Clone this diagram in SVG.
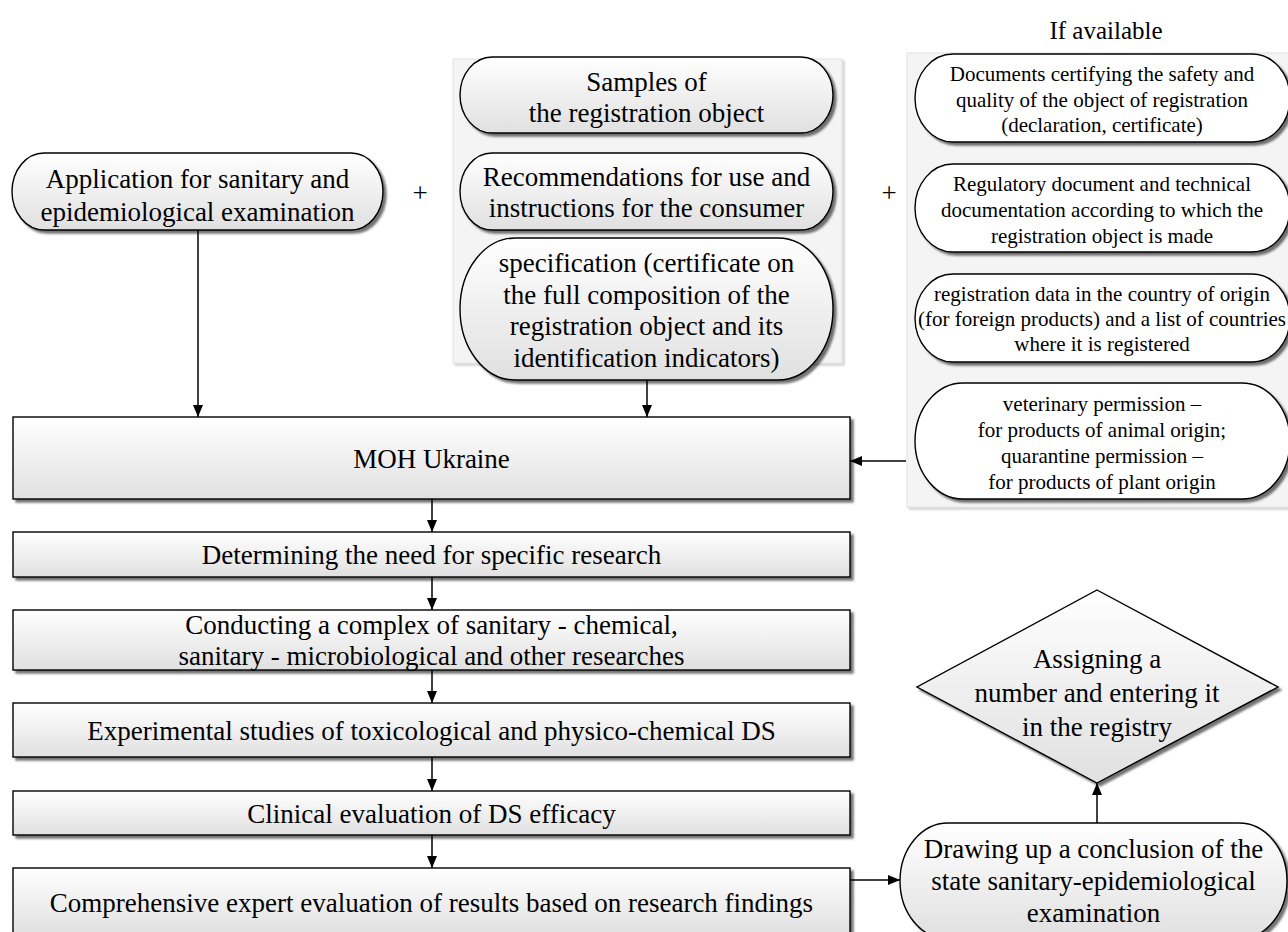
<svg xmlns="http://www.w3.org/2000/svg" width="1288" height="932" viewBox="0 0 1288 932" font-family="'Liberation Serif', 'Times New Roman', serif">
<defs>
<linearGradient id="g" x1="0" y1="0" x2="0" y2="1">
<stop offset="0" stop-color="#ffffff"/>
<stop offset="1" stop-color="#e0e0e0"/>
</linearGradient>
<filter id="sh" x="-5%" y="-10%" width="115%" height="130%">
<feDropShadow dx="3" dy="3" stdDeviation="1.2" flood-color="#000" flood-opacity="0.55"/>
</filter>
<filter id="psh" x="-5%" y="-5%" width="115%" height="115%">
<feDropShadow dx="2" dy="2" stdDeviation="1" flood-color="#000" flood-opacity="0.2"/>
</filter>
<marker id="ah" markerUnits="userSpaceOnUse" markerWidth="12" markerHeight="10" refX="12" refY="5" orient="auto">
<path d="M0,0 L12,5 L0,10 z" fill="#000"/>
</marker>
</defs>
<style>
.box{fill:url(#g);stroke:#000;stroke-width:1.4;filter:url(#sh)}
.wbox{fill:#fff;stroke:#000;stroke-width:1.4;filter:url(#sh)}
.panel{fill:#f4f4f4;stroke:#e2e2e2;stroke-width:1;filter:url(#psh)}
.t{font-family:"Liberation Serif","Times New Roman",serif;font-size:27px;fill:#000;text-anchor:middle}
.s{font-family:"Liberation Serif","Times New Roman",serif;font-size:21px;fill:#000;text-anchor:middle}
.c{fill:none;stroke:#000;stroke-width:1.5;marker-end:url(#ah)}
</style>

<rect id="panel-middle" class="panel" x="453" y="59" width="389" height="304"/>
<rect id="panel-right" class="panel" x="907" y="53" width="390" height="454"/>

<g id="plus-1"><text class="t" x="420" y="202">+</text></g>
<g id="plus-2"><text class="t" x="889" y="202">+</text></g>
<g id="if-available"><text class="t" x="1106" y="39" style="font-size:25px">If available</text></g>

<g id="application">
<rect class="box" x="12" y="153" width="371" height="77" rx="32" ry="38.5"/>
<text class="t" x="197.5" y="187.5">Application for sanitary and</text>
<text class="t" x="197.5" y="220.5">epidemiological examination</text>
</g>

<g id="samples">
<rect class="box" x="460" y="57" width="373" height="76" rx="32" ry="38"/>
<text class="t" x="646.5" y="91">Samples of</text>
<text class="t" x="646.5" y="122">the registration object</text>
</g>

<g id="recommendations">
<rect class="box" x="460" y="153" width="373" height="77" rx="32" ry="38.5"/>
<text class="t" x="646.5" y="185.5">Recommendations for use and</text>
<text class="t" x="646.5" y="216.5">instructions for the consumer</text>
</g>

<g id="specification">
<rect class="box" x="460" y="238" width="373" height="142" rx="55" ry="71"/>
<text class="t" x="646.5" y="272">specification (certificate on</text>
<text class="t" x="646.5" y="303.5">the full composition of the</text>
<text class="t" x="646.5" y="335">registration object and its</text>
<text class="t" x="646.5" y="366.5">identification indicators)</text>
</g>

<g id="documents">
<rect class="wbox" x="915" y="54" width="375" height="88" rx="38" ry="44"/>
<text class="s" x="1102" y="80.5">Documents certifying the safety and</text>
<text class="s" x="1102" y="106.5">quality of the object of registration</text>
<text class="s" x="1102" y="131.5">(declaration, certificate)</text>
</g>

<g id="regulatory">
<rect class="wbox" x="915" y="164" width="375" height="88" rx="38" ry="44"/>
<text class="s" x="1102" y="190.5">Regulatory document and technical</text>
<text class="s" x="1102" y="216.5">documentation according to which the</text>
<text class="s" x="1102" y="242.5">registration object is made</text>
</g>

<g id="registration-data">
<rect class="wbox" x="915" y="274" width="375" height="88" rx="38" ry="44"/>
<text class="s" x="1102" y="300.5">registration data in the country of origin</text>
<text class="s" x="1102" y="325.5">(for foreign products) and a list of countries</text>
<text class="s" x="1102" y="350.5">where it is registered</text>
</g>

<g id="veterinary">
<rect class="wbox" x="915" y="383" width="375" height="116" rx="48" ry="58"/>
<text class="s" x="1102" y="410.5">veterinary permission –</text>
<text class="s" x="1102" y="436.5">for products of animal origin;</text>
<text class="s" x="1102" y="462.5">quarantine permission –</text>
<text class="s" x="1102" y="488.5">for products of plant origin</text>
</g>

<g id="moh">
<rect class="box" x="13" y="417" width="837" height="82"/>
<text class="t" x="431.5" y="468">MOH Ukraine</text>
</g>

<g id="determining">
<rect class="box" x="13" y="532" width="837" height="45"/>
<text class="t" x="431.5" y="564">Determining the need for specific research</text>
</g>

<g id="conducting">
<rect class="box" x="13" y="610" width="837" height="60"/>
<text class="t" x="431.5" y="634">Conducting a complex of sanitary - chemical,</text>
<text class="t" x="431.5" y="665">sanitary - microbiological and other researches</text>
</g>

<g id="experimental">
<rect class="box" x="13" y="703" width="837" height="54"/>
<text class="t" x="431.5" y="739.5">Experimental studies of toxicological and physico-chemical DS</text>
</g>

<g id="clinical">
<rect class="box" x="13" y="791" width="837" height="44"/>
<text class="t" x="431.5" y="822.5">Clinical evaluation of DS efficacy</text>
</g>

<g id="comprehensive">
<rect class="box" x="13" y="868" width="837" height="68"/>
<text class="t" x="431.5" y="911.5">Comprehensive expert evaluation of results based on research findings</text>
</g>

<g id="drawing">
<rect class="box" x="900" y="823" width="387" height="116" rx="48" ry="58"/>
<text class="t" x="1093.5" y="857.5">Drawing up a conclusion of the</text>
<text class="t" x="1093.5" y="889.5">state sanitary-epidemiological</text>
<text class="t" x="1093.5" y="921.5">examination</text>
</g>

<g id="assigning">
<polygon class="box" points="1097,590 1278,687 1097,783 917,687"/>
<text class="t" x="1097" y="668">Assigning a</text>
<text class="t" x="1097" y="702">number and entering it</text>
<text class="t" x="1097" y="736">in the registry</text>
</g>

<g id="connectors">
<line class="c" x1="198" y1="230" x2="198" y2="417"/>
<line class="c" x1="647" y1="380" x2="647" y2="417"/>
<line class="c" x1="906" y1="461" x2="850" y2="461"/>
<line class="c" x1="432" y1="499" x2="432" y2="532"/>
<line class="c" x1="432" y1="577" x2="432" y2="610"/>
<line class="c" x1="432" y1="670" x2="432" y2="703"/>
<line class="c" x1="432" y1="757" x2="432" y2="791"/>
<line class="c" x1="432" y1="835" x2="432" y2="868"/>
<line class="c" x1="850" y1="880" x2="900" y2="880"/>
<line class="c" x1="1097" y1="823" x2="1097" y2="783"/>
</g>
</svg>
